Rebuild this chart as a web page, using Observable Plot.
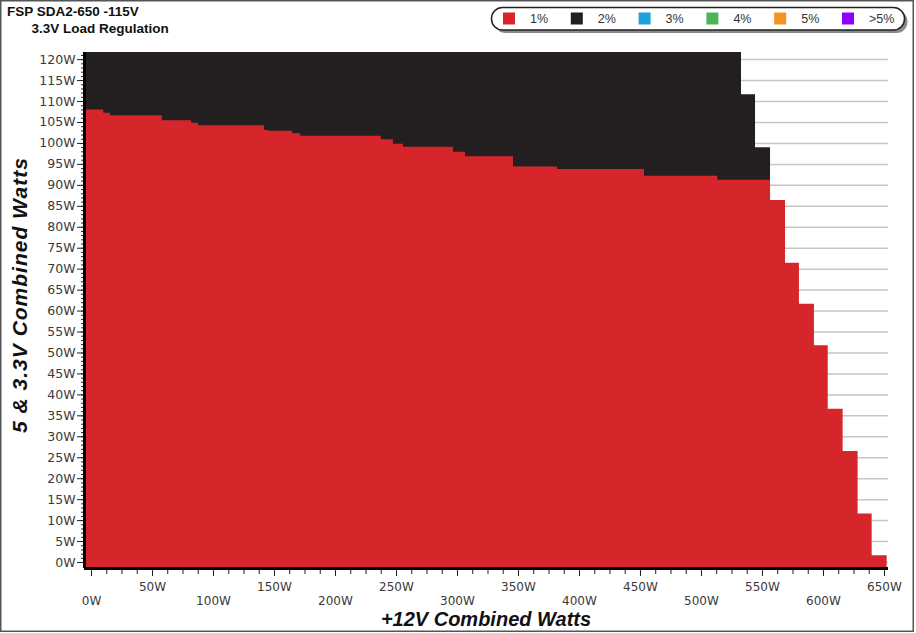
<!DOCTYPE html>
<html><head><meta charset="utf-8">
<script src="https://cdn.jsdelivr.net/npm/d3@7"></script>
<script src="https://cdn.jsdelivr.net/npm/@observablehq/plot@0.6"></script>
<style>
body{margin:0;background:#fff;}
#wrap{position:relative;width:916px;height:633px;overflow:hidden;background:#fff;}
#chart{position:absolute;left:0;top:0;}
#chart svg text{fill:#3a3a3a;}
</style></head><body>
<div id="wrap"><div id="chart"></div></div>
<script>
// ---- text ----
const titleText = "FSP SDA2-650 -115V";
const subtitleText = "3.3V Load Regulation";
const xTitleText = "+12V Combined Watts";
const yTitleText = "5 & 3.3V Combined Watts";
// ---- legend ----
const legendLabels = ["1%", "2%", "3%", "4%", "5%", ">5%"];
const legendColors = ["#d7262b", "#231f20", "#1ba3d9", "#4cb454", "#f29322", "#9100ff"];
// ---- data: step edges on +12V load (W) and max 5V&3.3V load (W) ----
const redEdgesW = [-5.7, 10.1, 15.6, 58, 82, 87.7, 141.8, 145, 164.8, 171.3, 237.5, 247.5, 255.7, 296.7, 306.6, 345.9, 382, 453.3, 513.4, 556.6, 568.9, 580.3, 592.6, 603.9, 616.1, 628.4, 639.9, 652.2];
const redMaxW   = [108.0, 107.2, 106.6, 105.4, 104.8, 104.2, 103.1, 102.9, 102.3, 101.7, 100.9, 99.8, 99.1, 97.9, 96.8, 94.4, 93.8, 92.2, 91.2, 86.4, 71.4, 61.6, 51.7, 36.6, 26.5, 11.6, 1.6];
const blackEdgesW = [-5.7, 532.8, 544.3, 556.6];
const blackMaxW   = [121.7, 111.6, 99.0];
// ---- ticks ----
const yLabelTicks = [0,5,10,15,20,25,30,35,40,45,50,55,60,65,70,75,80,85,90,95,100,105,110,115,120];
const yMinorTicks = d3.range(0, 122, 1);
const xMinorTicks = d3.range(0, 651, 12.5);
const xMajorTicks = [0,50,100,150,200,250,300,350,400,450,500,550,600,650];
const xLabelsUpper = [50,150,250,350,450,550,650];
const xLabelsLower = [0,100,200,300,400,500,600];

const xDomain = [-5.74, 653.3];
const yDomain = [-1.43, 121.7];

// step-after points: each step value at its left edge, repeated at the final right edge
const stepPoints = (edges, vals) => edges.map((e, i) => ({x: e, y: vals[Math.min(i, vals.length - 1)]}));
const redPts = stepPoints(redEdgesW, redMaxW);
const blackPts = stepPoints(blackEdgesW, blackMaxW);
const fmt = d => d + "W";

const chart = Plot.plot({
  width: 916, height: 633,
  marginLeft: 84, marginRight: 28, marginTop: 52, marginBottom: 65,
  x: {domain: xDomain, axis: null},
  y: {domain: yDomain, axis: null},
  style: {background: "transparent", fontFamily: "DejaVu Sans", fontSize: "12px", color: "#3a3a3a"},
  marks: [
    Plot.gridY(yLabelTicks, {stroke: "#c6c6c6", strokeOpacity: 1, strokeWidth: 1.5}),
    Plot.areaY(blackPts, {x: "x", y1: yDomain[0], y2: "y", curve: "step-after", fill: legendColors[1]}),
    Plot.areaY(redPts, {x: "x", y1: yDomain[0], y2: "y", curve: "step-after", fill: legendColors[0]}),
    Plot.axisY(yMinorTicks, {tickSize: 3, tickFormat: () => "", stroke: "#222", label: null}),
    Plot.axisY(yLabelTicks, {tickSize: 7, tickPadding: 2, tickFormat: fmt, stroke: "#222", fontSize: 12.5, label: null}),
    Plot.axisX(xMinorTicks, {tickSize: 6, tickFormat: () => "", stroke: "#222", label: null}),
    Plot.axisX(xMajorTicks, {tickSize: 8, tickFormat: () => "", stroke: "#222", label: null}),
    Plot.axisX(xLabelsUpper, {tickSize: 0, tickPadding: 14, tickFormat: fmt, label: null}),
    Plot.axisX(xLabelsLower, {tickSize: 0, tickPadding: 28, tickFormat: fmt, label: null}),
    Plot.ruleX([xDomain[0]], {stroke: "#000", strokeWidth: 3}),
    Plot.ruleY([yDomain[0]], {stroke: "#000", strokeWidth: 3})
  ]
});
document.getElementById("chart").appendChild(chart);

// ---- overlay: titles, legend, frame ----
const ov = d3.select("#wrap").append("svg")
  .attr("width", 916).attr("height", 633)
  .style("position", "absolute").style("left", 0).style("top", 0)
  .style("font-family", "'Liberation Sans', Arial, sans-serif");

ov.append("text").attr("x", 7).attr("y", 16).attr("font-size", 13.5).attr("font-weight", "bold").attr("fill", "#111").text(titleText);
ov.append("text").attr("x", 31.5).attr("y", 33).attr("font-size", 13.5).attr("font-weight", "bold").attr("fill", "#111").text(subtitleText);

ov.append("text").attr("x", 486).attr("y", 626).attr("text-anchor", "middle")
  .attr("font-size", 20).attr("font-weight", "bold").attr("font-style", "italic").attr("fill", "#111").text(xTitleText);
ov.append("text").attr("transform", "translate(27,295) rotate(-90)").attr("text-anchor", "middle")
  .attr("font-size", 21).attr("font-weight", "bold").attr("font-style", "italic").attr("letter-spacing", 1)
  .attr("fill", "#111").text(yTitleText);

// legend
const lg = ov.append("g");
lg.append("rect").attr("x", 494.5).attr("y", 10.5).attr("width", 413).attr("height", 22.5).attr("rx", 11).attr("fill", "#8a8a8a");
lg.append("rect").attr("x", 491.5).attr("y", 7.5).attr("width", 413).attr("height", 22.5).attr("rx", 11)
  .attr("fill", "#fff").attr("stroke", "#222").attr("stroke-width", 1.5);
legendLabels.forEach((lab, i) => {
  lg.append("rect").attr("x", 503 + i * 67.8).attr("y", 12.5).attr("width", 12).attr("height", 12).attr("fill", legendColors[i]);
  lg.append("text").attr("x", 530 + i * 67.8).attr("y", 23).attr("font-size", 12.5).attr("fill", "#333").text(lab);
});

// outer frame
ov.append("rect").attr("x", 0.75).attr("y", 0.75).attr("width", 912.5).attr("height", 630.5)
  .attr("fill", "none").attr("stroke", "#555").attr("stroke-width", 1.5);
</script>
</body></html>
